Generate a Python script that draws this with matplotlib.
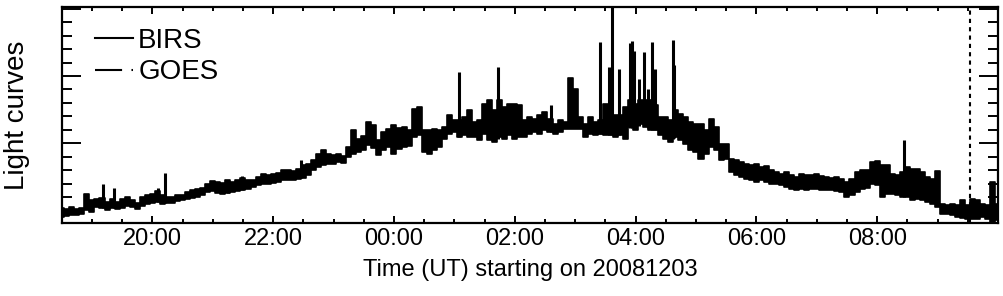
import matplotlib
matplotlib.use("Agg")
import matplotlib.pyplot as plt
from matplotlib.lines import Line2D
import numpy as np

plt.rcParams['font.family'] = ['Liberation Sans', 'DejaVu Sans']

# BIRS light curve: band envelope every 5 min from 18:30 UT
t_start = 18.5          # hours (18:30 UT on 2008-12-03)
t_step = 5.0 / 60.0
birs_hi = [15, 14, 16, 14, 15, 29, 23, 24, 25, 21, 24, 21, 24, 26, 23, 20, 26, 28, 29, 32,
           28, 26, 26, 28, 28, 31, 33, 34, 35, 39, 42, 41, 40, 43, 41, 43, 45, 43, 43, 46,
           49, 48, 49, 50, 53, 53, 52, 54, 58, 59, 63, 69, 73, 69, 68, 69, 67, 76, 93, 84,
           87, 101, 98, 83, 91, 94, 98, 95, 96, 93, 114, 116, 93, 93, 94, 93, 96, 108, 103, 103,
           106, 113, 101, 103, 119, 123, 113, 123, 116, 119, 119, 118, 103, 106, 104, 108, 111, 104, 99, 103,
           101, 145, 134, 106, 99, 106, 101, 103, 119, 106, 108, 108, 116, 123, 119, 123, 123, 123, 118, 106,
           106, 103, 113, 109, 106, 101, 99, 99, 93, 104, 96, 79, 79, 64, 63, 61, 59, 58, 59, 56,
           57, 53, 51, 49, 51, 48, 46, 49, 48, 48, 49, 47, 46, 45, 46, 44, 41, 44, 51, 53,
           53, 61, 62, 58, 58, 49, 48, 51, 56, 54, 54, 51, 46, 44, 52, 19, 18, 19, 18, 23,
           18, 24, 23, 19, 18, 41, 19]
birs_lo = [6, 7, 8, 8, 9, 13, 11, 16, 15, 13, 15, 14, 15, 17, 16, 14, 17, 19, 20, 21,
           19, 20, 20, 22, 23, 24, 25, 26, 28, 31, 32, 30, 29, 30, 31, 32, 33, 34, 36, 38,
           39, 39, 40, 41, 43, 43, 43, 44, 45, 48, 53, 56, 58, 59, 59, 61, 60, 66, 69, 71,
           73, 78, 75, 68, 73, 76, 69, 74, 76, 77, 86, 88, 71, 69, 73, 76, 84, 89, 91, 86,
           88, 86, 86, 83, 89, 83, 81, 86, 84, 88, 84, 86, 86, 89, 91, 89, 93, 91, 89, 91,
           94, 94, 94, 94, 86, 89, 88, 89, 88, 88, 86, 88, 84, 96, 93, 99, 96, 93, 93, 88,
           84, 81, 86, 83, 79, 73, 71, 64, 69, 76, 73, 63, 64, 51, 48, 46, 44, 43, 41, 43,
           41, 39, 39, 38, 36, 34, 33, 34, 33, 34, 34, 33, 33, 33, 32, 31, 26, 28, 31, 34,
           35, 39, 38, 26, 29, 29, 28, 26, 26, 23, 24, 23, 21, 19, 16, 9, 9, 8, 6, 5,
           4, 4, 4, 6, 4, 1, 3]

# narrow spikes (time in hours, peak value)
spike_t = [19.179, 19.366, 20.099, 20.210, 21.257, 21.479, 22.456, 25.081, 25.716, 26.598,
           27.409, 27.563, 27.608, 27.719, 27.906, 27.939, 27.972, 28.055, 28.138, 28.199,
           28.278, 28.320, 28.622, 28.642, 32.436]
spike_peak = [39, 35, 35, 50, 43, 47, 63, 151, 156, 118,
              181, 156, 216, 154, 180, 182, 172, 144, 171, 134,
              181, 154, 183, 158, 83]

marker_time = 33.545    # dotted vertical line
tick_hours = [20, 22, 24, 26, 28, 30, 32]
tick_labels = ['20:00', '22:00', '00:00', '02:00', '04:00', '06:00', '08:00']

t = t_start + t_step * np.arange(len(birs_hi))

fig = plt.figure(figsize=(10.04, 2.96), dpi=100)
ax = fig.add_axes([0.0615, 0.2476, 0.9325, 0.7271])

ax.fill_between(t, birs_lo, birs_hi, step='mid', color='k', lw=1.2)
base = np.interp(spike_t, t, birs_lo)
ax.vlines(spike_t, base, spike_peak, color='k', lw=2.2)
ax.axvline(marker_time, color='k', lw=1.5, linestyle=(0, (2, 2)))

ax.set_xlim(18.5, 34.0)
ax.set_ylim(0, 215.2)
ax.set_xticks(tick_hours)
ax.set_xticklabels(tick_labels)
ax.set_xticks(np.arange(19.0, 34.0, 0.5), minor=True)
ax.set_yticks(12.1 + 67.3 * np.arange(4))
ax.set_yticks(12.1 + 13.46 * np.arange(16), minor=True)
ax.set_yticklabels([])

ax.tick_params(axis='both', which='both', direction='in', top=True, right=True,
               width=1.4, labelsize=17, colors='k')
ax.tick_params(axis='x', which='major', length=5, pad=4)
ax.tick_params(axis='x', which='minor', length=2.9)
ax.tick_params(axis='y', which='major', length=13.7)
ax.tick_params(axis='y', which='minor', length=7.2)
for s in ax.spines.values():
    s.set_linewidth(1.6)

ax.set_xlabel('Time (UT) starting on 20081203', fontsize=17, labelpad=6)
ax.set_ylabel('Light curves', fontsize=20, labelpad=19)

handles = [Line2D([], [], color='k', lw=1.5),
           Line2D([], [], color='k', lw=1.5, linestyle=(0, (13, 4.5, 1, 4.5)))]
ax.legend(handles, ['BIRS', 'GOES'], loc='upper left', bbox_to_anchor=(0.036, 0.905),
          frameon=False, fontsize=20, handlelength=1.34, handletextpad=0.2,
          labelspacing=0.2, borderaxespad=0, borderpad=0)

fig.savefig('out.png', dpi=100)
